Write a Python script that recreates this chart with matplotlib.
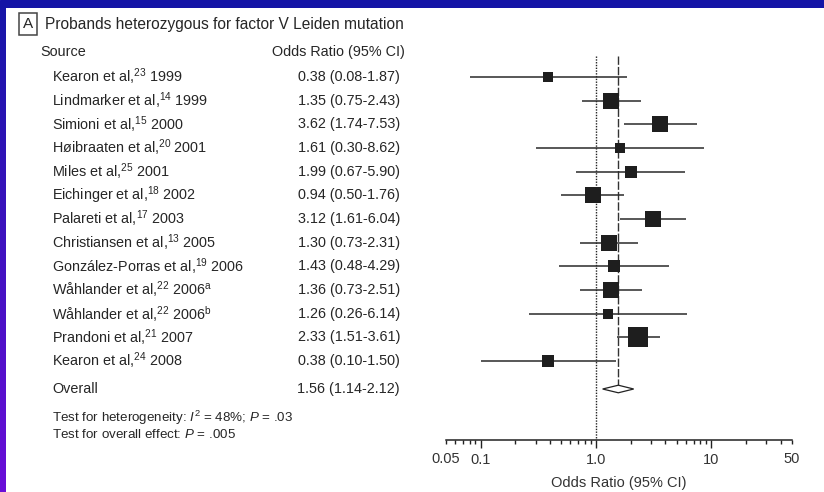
import matplotlib
matplotlib.use("Agg")
import matplotlib.pyplot as plt
import matplotlib.transforms as mtransforms
from matplotlib.ticker import FixedLocator, FuncFormatter
from matplotlib.colors import LinearSegmentedColormap
import numpy as np

plt.rcParams['font.family'] = ['Liberation Sans', 'DejaVu Sans']
plt.rcParams['mathtext.fontset'] = 'custom'
plt.rcParams['mathtext.rm'] = 'Liberation Sans'
plt.rcParams['mathtext.it'] = 'Liberation Sans:italic'
plt.rcParams['mathtext.bf'] = 'Liberation Sans:bold'

# ---------------- data ----------------
title = "Probands heterozygous for factor V Leiden mutation"
studies = [
    r"Kearon et al,$^{\mathrm{23}}$ 1999",
    r"Lindmarker et al,$^{\mathrm{14}}$ 1999",
    r"Simioni et al,$^{\mathrm{15}}$ 2000",
    r"Høibraaten et al,$^{\mathrm{20}}$ 2001",
    r"Miles et al,$^{\mathrm{25}}$ 2001",
    r"Eichinger et al,$^{\mathrm{18}}$ 2002",
    r"Palareti et al,$^{\mathrm{17}}$ 2003",
    r"Christiansen et al,$^{\mathrm{13}}$ 2005",
    r"González-Porras et al,$^{\mathrm{19}}$ 2006",
    r"Wåhlander et al,$^{\mathrm{22}}$ 2006$^{\mathrm{a}}$",
    r"Wåhlander et al,$^{\mathrm{22}}$ 2006$^{\mathrm{b}}$",
    r"Prandoni et al,$^{\mathrm{21}}$ 2007",
    r"Kearon et al,$^{\mathrm{24}}$ 2008",
]
odds_ratio = [0.38, 1.35, 3.62, 1.61, 1.99, 0.94, 3.12, 1.30, 1.43, 1.36, 1.26, 2.33, 0.38]
ci_low = [0.08, 0.75, 1.74, 0.30, 0.67, 0.50, 1.61, 0.73, 0.48, 0.73, 0.26, 1.51, 0.10]
ci_high = [1.87, 2.43, 7.53, 8.62, 5.90, 1.76, 6.04, 2.31, 4.29, 2.51, 6.14, 3.61, 1.50]
weights = [3.3, 9.3, 9.3, 3.3, 5.9, 10.6, 9.3, 10.6, 5.9, 9.3, 3.3, 14.9, 5.0]

overall_or = 1.56
overall_low = 1.14
overall_high = 2.12

major_ticks = [0.1, 1.0, 10]
major_labels = ["0.1", "1.0", "10"]
minor_ticks = [0.05, 0.06, 0.07, 0.08, 0.09, 0.2, 0.3, 0.4, 0.5, 0.6, 0.7, 0.8, 0.9,
               2, 3, 4, 5, 6, 7, 8, 9, 20, 30, 40, 50]
minor_labels = {0.05: "0.05", 50: "50"}
x_range = (0.05, 50)

# ---------------- figure ----------------
W, H = 824, 492
fig = plt.figure(figsize=(W / 100, H / 100), dpi=100)
fig.patch.set_facecolor("white")

def fx(px):
    return px / W

def fy(py):
    return 1 - py / H

# decorative slide border
top = fig.add_axes([0, fy(8), 1, 8 / H])
top.set_axis_off()
top.add_patch(plt.Rectangle((0, 0), 1, 1, color="#1414a6", transform=top.transAxes))
left = fig.add_axes([0, 0, fx(6), fy(8)])
left.set_axis_off()
grad = np.linspace(0, 1, 256).reshape(-1, 1)
cmap = LinearSegmentedColormap.from_list("b", ["#1616a8", "#6a0ed8"])
left.imshow(grad, aspect="auto", cmap=cmap, extent=[0, 1, 1, 0])
left.set_xlim(0, 1)
left.set_ylim(1, 0)

row0_px = 77.0
row_step = 23.67
axis_px = 440.0
top_px = 14.0
ylim_bottom = (axis_px - row0_px) / row_step
ylim_top = (top_px - row0_px) / row_step

ax_left, ax_right = 446.0, 792.0
ax = fig.add_axes([fx(ax_left), fy(axis_px), (ax_right - ax_left) / W, (axis_px - top_px) / H])
ax.set_xscale("log")
ax.set_xlim(*x_range)
ax.set_ylim(ylim_bottom, ylim_top)
for s in ["top", "left", "right"]:
    ax.spines[s].set_visible(False)
ax.spines["bottom"].set_linewidth(1.1)
ax.spines["bottom"].set_color("#222222")
ax.yaxis.set_visible(False)
ax.patch.set_alpha(0)

ink = "#1e1e1e"
ys = np.arange(len(studies))
overall_y = (389 - row0_px) / row_step

# reference lines
line_top = (56 - row0_px) / row_step
ax.plot([1, 1], [line_top, ylim_bottom], color="#222222", lw=1.0, ls=(0, (1, 1)), zorder=1)
ax.plot([overall_or, overall_or], [line_top, overall_y - 0.16], color="#333333", lw=1.0,
        ls=(0, (6, 1.5)), zorder=1)

# CIs and squares
for i in range(len(studies)):
    ax.plot([ci_low[i], ci_high[i]], [ys[i], ys[i]], color="#2a2a2a", lw=1.1, zorder=2,
            solid_capstyle="butt")
    side_px = 5.2 * np.sqrt(weights[i])
    ax.plot(odds_ratio[i], ys[i], marker="s", ms=side_px * 0.72, color=ink, mec=ink,
            mew=0, zorder=3)

# diamond
h = 0.16
ax.fill([overall_low, overall_or, overall_high, overall_or],
        [overall_y, overall_y - h, overall_y, overall_y + h],
        facecolor="white", edgecolor="#222222", lw=0.9, zorder=3)

# ticks
ax.xaxis.set_major_locator(FixedLocator(major_ticks))
ax.xaxis.set_major_formatter(FuncFormatter(lambda v, p: major_labels[major_ticks.index(v)]
                                           if v in major_ticks else ""))
ax.xaxis.set_minor_locator(FixedLocator(minor_ticks))
def minor_fmt(v, p):
    for k, lab in minor_labels.items():
        if abs(v - k) < 1e-9:
            return lab
    return ""
ax.xaxis.set_minor_formatter(FuncFormatter(minor_fmt))
ax.tick_params(axis="x", which="major", direction="out", length=6, width=1.0,
               color="#222222", pad=3.6, labelsize=10.5, labelcolor="#333333")
ax.tick_params(axis="x", which="minor", direction="out", length=3, width=1.0,
               color="#222222", pad=5.8, labelsize=10.5, labelcolor="#333333")
ax.set_xlabel("Odds Ratio (95% CI)", fontsize=10.5, color="#333333", labelpad=6)

# text columns
tr = mtransforms.blended_transform_factory(fig.transFigure, ax.transData)
txt_col = "#262626"
fs = 10.4
for i in range(len(studies)):
    ax.text(fx(52), ys[i], studies[i], transform=tr, ha="left", va="center",
            fontsize=fs, color=txt_col, clip_on=False)
    ax.text(fx(400), ys[i], f"{odds_ratio[i]:.2f} ({ci_low[i]:.2f}-{ci_high[i]:.2f})",
            transform=tr, ha="right", va="center", fontsize=fs, color=txt_col, clip_on=False)

ax.text(fx(52), overall_y, "Overall", transform=tr, ha="left", va="center",
        fontsize=fs, color=txt_col, clip_on=False)
ax.text(fx(400), overall_y, f"{overall_or:.2f} ({overall_low:.2f}-{overall_high:.2f})",
        transform=tr, ha="right", va="center", fontsize=fs, color=txt_col, clip_on=False)

fig.text(fx(40), fy(52), "Source", ha="left", va="center", fontsize=fs, color=txt_col)
fig.text(fx(405), fy(52), "Odds Ratio (95% CI)", ha="right", va="center", fontsize=fs,
         color=txt_col)

fig.text(fx(28), fy(24), "A", ha="center", va="center", fontsize=11, color=txt_col,
         bbox=dict(boxstyle="square,pad=0.25", fc="white", ec="#444444", lw=1.1))
fig.text(fx(45), fy(24), title, ha="left", va="center", fontsize=11.2, color=txt_col)

fig.text(fx(52), fy(422), r"Test for heterogeneity: $I^{2}$ = 48%; $P$ = .03",
         ha="left", va="baseline", fontsize=9.6, color=txt_col)
fig.text(fx(52), fy(438), r"Test for overall effect: $P$ = .005",
         ha="left", va="baseline", fontsize=9.6, color=txt_col)

fig.savefig("out.png", dpi=100, facecolor="white")
